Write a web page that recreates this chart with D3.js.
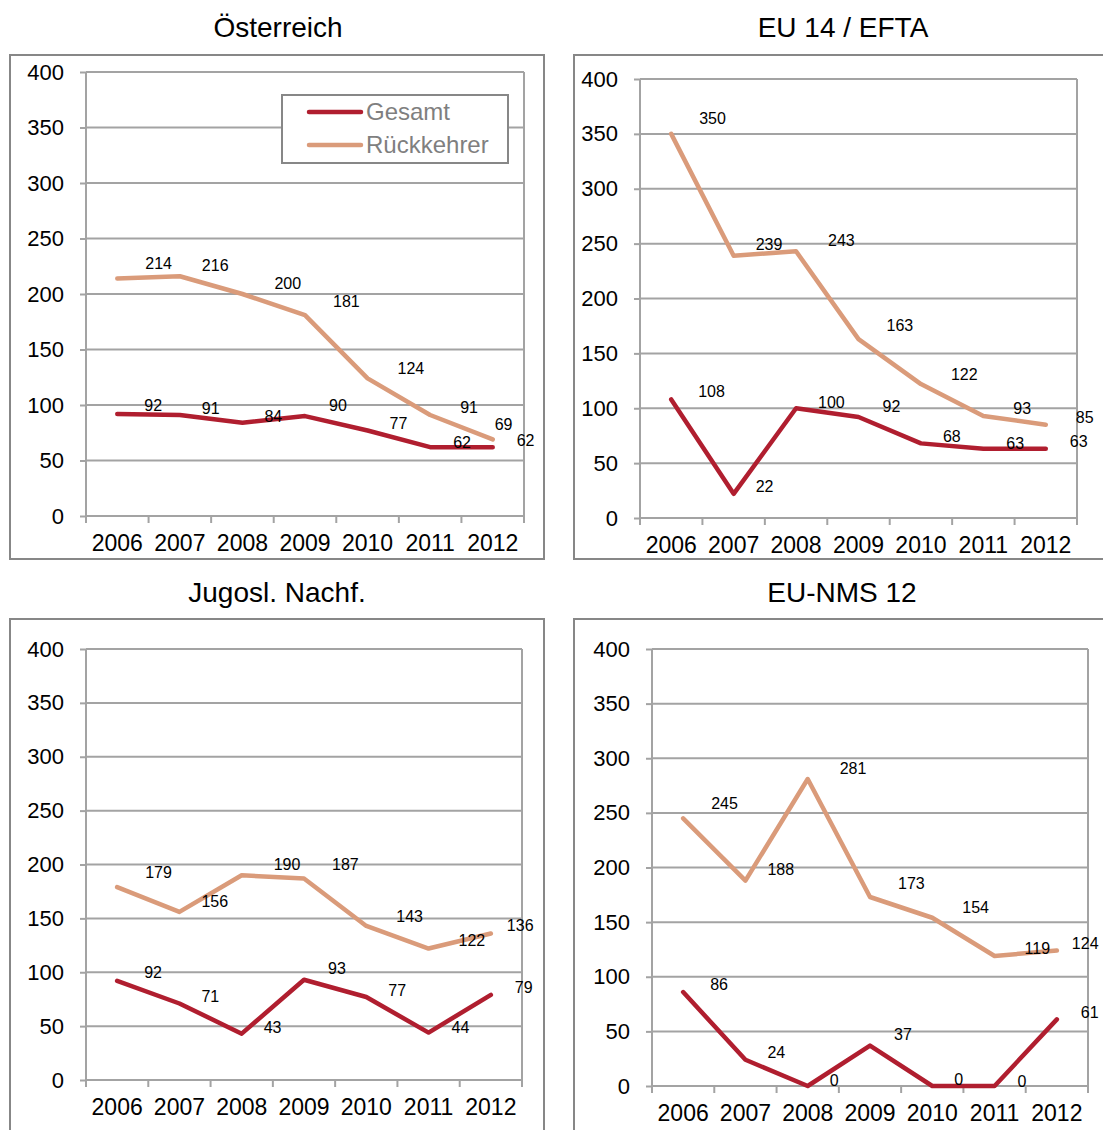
<!DOCTYPE html>
<html>
<head>
<meta charset="utf-8">
<script src="https://cdn.jsdelivr.net/npm/d3@7"></script>
<style>
  html, body { margin: 0; padding: 0; background: #fff; }
  svg { display: block; font-family: "Liberation Sans", Arial, Helvetica, sans-serif; }
</style>
</head>
<body>
<svg id="chart" width="1103" height="1130"></svg>
<script>
// ---- data ----
const years = ["2006", "2007", "2008", "2009", "2010", "2011", "2012"];
const seriesNames = ["Gesamt", "Rückkehrer"];
const panelTitles = ["Österreich", "EU 14 / EFTA", "Jugosl. Nachf.", "EU-NMS 12"];
const yTickValues = [0, 50, 100, 150, 200, 250, 300, 350, 400];

const gesamtOesterreich = [92, 91, 84, 90, 77, 62, 62];
const rueckOesterreich  = [214, 216, 200, 181, 124, 91, 69];
const gesamtEU14        = [108, 22, 100, 92, 68, 63, 63];
const rueckEU14         = [350, 239, 243, 163, 122, 93, 85];
const gesamtJugo        = [92, 71, 43, 93, 77, 44, 79];
const rueckJugo         = [179, 156, 190, 187, 143, 122, 136];
const gesamtNMS         = [86, 24, 0, 37, 0, 0, 61];
const rueckNMS          = [245, 188, 281, 173, 154, 119, 124];

const panelData = [
  [gesamtOesterreich, rueckOesterreich],
  [gesamtEU14, rueckEU14],
  [gesamtJugo, rueckJugo],
  [gesamtNMS, rueckNMS]
];

// ---- layout / style ----
const colors = ["#B01E2F", "#DA9B7A"];
const gridColor = "#a3a3a3";
const frameColor = "#878787";
const FONT_TICK_Y = 22, FONT_TICK_X = 23, FONT_TITLE = 28, FONT_LABEL = 16, FONT_LEGEND = 24;

const layouts = [
  { frame: [10, 55, 544, 559],   plot: [86, 72, 524, 516],   title: [278, 27] },
  { frame: [574, 55, 1115, 559], plot: [640, 79, 1077, 518], title: [843, 27] },
  { frame: [10, 619, 544, 1145], plot: [86, 649, 522, 1080], title: [277, 592] },
  { frame: [574, 619, 1115, 1145], plot: [652, 649, 1088, 1086], title: [842, 592] }
];

// data label offsets (start-anchored dx, center dy) by year index
const labelDX = [[27, 22, 22, 24, 22, 23, 24], [28, 22, 32, 28, 30, 30, null]];
const labelDY = [[-8, -7, -6, -11, -7, -5, -7], [-15, -11, -11, -14, -10, -8, null]];
const lastRueckOffset = [[2, -15], [30, -7], [16, -8], [15, -7]];

const svg = d3.select("#chart");

layouts.forEach((L, pi) => {
  const g = svg.append("g");
  const [fx0, fy0, fx1, fy1] = L.frame;
  const [px0, py0, px1, py1] = L.plot;

  // outer frame
  g.append("rect")
    .attr("x", fx0).attr("y", fy0)
    .attr("width", fx1 - fx0).attr("height", fy1 - fy0)
    .attr("fill", "#fff").attr("stroke", frameColor).attr("stroke-width", 2);

  // title
  g.append("text")
    .attr("x", L.title[0]).attr("y", L.title[1])
    .attr("text-anchor", "middle").attr("dy", "0.35em")
    .attr("font-size", FONT_TITLE).attr("fill", "#000")
    .text(panelTitles[pi]);

  const x = d3.scaleBand().domain(years).range([px0, px1]).padding(0);
  const y = d3.scaleLinear().domain([0, 400]).range([py1, py0]);

  // gridlines
  g.append("g").selectAll("line").data(yTickValues.filter(v => v > 0)).join("line")
    .attr("x1", px0).attr("x2", px1)
    .attr("y1", d => y(d)).attr("y2", d => y(d))
    .attr("stroke", gridColor).attr("stroke-width", 2);

  // right plot border
  g.append("line")
    .attr("x1", px1).attr("x2", px1).attr("y1", py0).attr("y2", py1)
    .attr("stroke", gridColor).attr("stroke-width", 2);

  // y axis
  const yAxis = g.append("g").attr("transform", `translate(${px0},0)`)
    .call(d3.axisLeft(y).tickValues(yTickValues).tickSize(6).tickPadding(16).tickFormat(d3.format("d")));
  yAxis.select(".domain").attr("stroke", gridColor).attr("stroke-width", 2)
    .attr("d", `M0,${py0}V${py1}`);
  yAxis.selectAll(".tick line").attr("stroke", gridColor).attr("stroke-width", 2);
  yAxis.selectAll("text").attr("font-size", FONT_TICK_Y).attr("fill", "#000")
    .attr("font-family", "Liberation Sans, Arial, sans-serif");

  // x axis (labels at band centers, ticks at band boundaries)
  const xAxis = g.append("g").attr("transform", `translate(0,${py1})`)
    .call(d3.axisBottom(x).tickSize(0).tickPadding(19));
  xAxis.select(".domain").attr("stroke", gridColor).attr("stroke-width", 2)
    .attr("d", `M${px0},0H${px1}`);
  xAxis.selectAll("text").attr("font-size", FONT_TICK_X).attr("fill", "#000")
    .attr("font-family", "Liberation Sans, Arial, sans-serif");
  const boundaries = years.map(yr => x(yr)).concat([px1]);
  xAxis.append("g").selectAll("line").data(boundaries).join("line")
    .attr("x1", d => d).attr("x2", d => d).attr("y1", 0).attr("y2", 7)
    .attr("stroke", gridColor).attr("stroke-width", 2);

  // lines
  const line = d3.line()
    .x((d, i) => x(years[i]) + x.bandwidth() / 2)
    .y(d => y(d));

  // draw Rückkehrer first then Gesamt
  [1, 0].forEach(si => {
    g.append("path")
      .datum(panelData[pi][si])
      .attr("d", line)
      .attr("fill", "none")
      .attr("stroke", colors[si])
      .attr("stroke-width", 4.5)
      .attr("stroke-linejoin", "round")
      .attr("stroke-linecap", "round");
  });

  // data labels
  [1, 0].forEach(si => {
    g.append("g").selectAll("text").data(panelData[pi][si]).join("text")
      .attr("x", (d, i) => {
        let dx = labelDX[si][i];
        if (si === 1 && i === years.length - 1) dx = lastRueckOffset[pi][0];
        return x(years[i]) + x.bandwidth() / 2 + dx;
      })
      .attr("y", (d, i) => {
        let dy = labelDY[si][i];
        if (si === 1 && i === years.length - 1) dy = lastRueckOffset[pi][1];
        return y(d) + dy;
      })
      .attr("dy", "0.35em")
      .attr("font-size", FONT_LABEL)
      .attr("fill", "#000")
      .text(d => d);
  });

  // legend only in first panel
  if (pi === 0) {
    const lg = g.append("g");
    lg.append("rect")
      .attr("x", 282).attr("y", 95).attr("width", 226).attr("height", 68)
      .attr("fill", "#fff").attr("stroke", frameColor).attr("stroke-width", 2);
    seriesNames.forEach((name, si) => {
      const ly = 112 + si * 33;
      lg.append("line")
        .attr("x1", 309).attr("x2", 361).attr("y1", ly).attr("y2", ly)
        .attr("stroke", colors[si]).attr("stroke-width", 4.5).attr("stroke-linecap", "round");
      lg.append("text")
        .attr("x", 366).attr("y", ly).attr("dy", "0.35em")
        .attr("font-size", FONT_LEGEND).attr("fill", "#7f7f7f")
        .text(name);
    });
  }
});
</script>
</body>
</html>
